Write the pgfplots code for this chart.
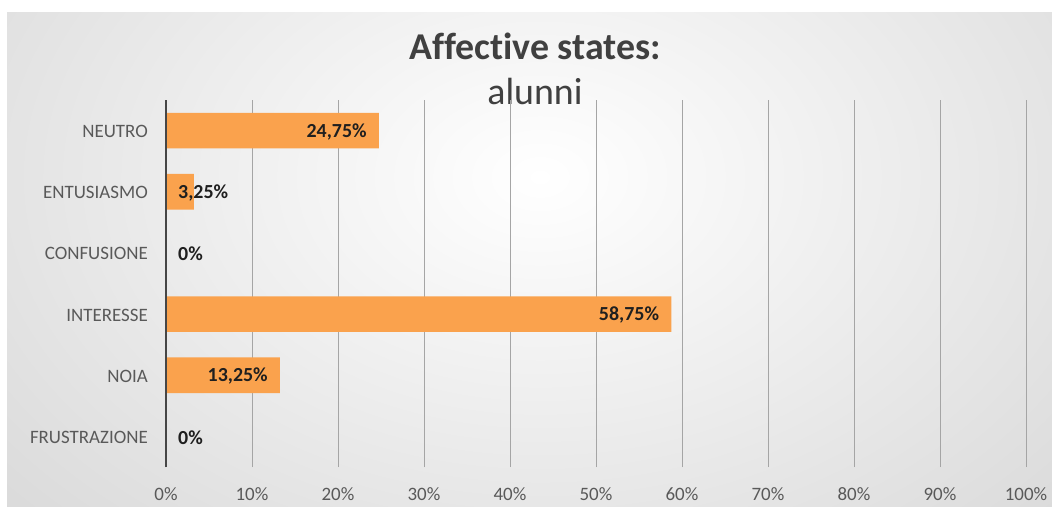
\documentclass[border=0pt]{standalone}
\usepackage{pgfplots}
\pgfplotsset{compat=1.18}
\usepackage{fontspec}
\setmainfont{Carlito}[Ligatures=NoCommon]
\definecolor{barc}{RGB}{250,162,77}
\definecolor{tickc}{RGB}{89,89,89}
\definecolor{titlec}{RGB}{64,64,64}
\definecolor{gridc}{RGB}{165,165,165}
\definecolor{edgec}{RGB}{196,196,196}
\definecolor{axc}{RGB}{70,70,70}
\begin{document}
\begin{tikzpicture}
\useasboundingbox (0bp,0bp) rectangle (1052bp,507bp);
\begin{scope}
\clip (7bp,0bp) rectangle (1052bp,494bp);
\shade[inner color=white, outer color=edgec] (540bp,330bp) ellipse (1150bp and 800bp);
\end{scope}
\node[anchor=base, text=titlec, font=\fontsize{38}{40}\selectfont\bfseries] at (535bp,447bp) {Affective states:};
\node[anchor=base, text=titlec, font=\fontsize{38}{40}\selectfont] at (535bp,402bp) {alunni};
\begin{axis}[
  scale only axis, width=860bp, height=367bp,
  at={(166bp,40bp)}, anchor=south west,
  xmin=0, xmax=100, ymin=-0.5, ymax=5.5,
  axis lines*=left,
  x axis line style={draw=none},
  y axis line style={draw=axc, line width=2.2bp},
  major tick length=0pt,
  xtick={0,10,...,100},
  xticklabel={\pgfmathprintnumber{\tick}\%},
  ytick={0,1,2,3,4,5},
  yticklabels={FRUSTRAZIONE,NOIA,INTERESSE,CONFUSIONE,ENTUSIASMO,NEUTRO},
  /pgf/number format/assume math mode=true,
  xticklabel style={font=\fontsize{19}{22}\selectfont, text=tickc, inner sep=0pt, anchor=north, yshift=-20bp},
  yticklabel style={font=\fontsize{19}{22}\selectfont, text=tickc, inner sep=0pt, anchor=east, xshift=-18bp, yshift=-1bp},
  xmajorgrids,
  major grid style={draw=gridc, line width=1bp},
  clip=false,
]
\addplot[xbar, bar width=35.5bp, fill=barc, draw=none] table {
x y
24.75 5
3.25 4
0 3
58.75 2
13.25 1
0 0
};
\addplot[draw=axc, line width=2.2bp, mark=none, forget plot] coordinates {(0,-0.5) (0,5.5)};
\addplot[draw=none, mark=none, forget plot, nodes near coords, point meta=x,
  nodes near coords={\pgfmathprintnumber[fixed,precision=2,use comma]{\pgfplotspointmeta}\%},
  every node near coord/.append style={anchor=east, xshift=-12bp, yshift=-1bp, inner sep=0pt, text=black!88, font=\fontsize{20}{22}\selectfont\bfseries}]
table {
x y
24.75 5
58.75 2
13.25 1
};
\addplot[draw=none, mark=none, forget plot, nodes near coords, point meta=explicit,
  nodes near coords={\pgfmathprintnumber[fixed,precision=2,use comma]{\pgfplotspointmeta}\%},
  every node near coord/.append style={anchor=west, xshift=12bp, yshift=-1bp, inner sep=0pt, text=black!88, font=\fontsize{20}{22}\selectfont\bfseries}]
table[meta=v] {
x y v
0 4 3.25
0 3 0
0 0 0
};
\end{axis}
\end{tikzpicture}
\end{document}
